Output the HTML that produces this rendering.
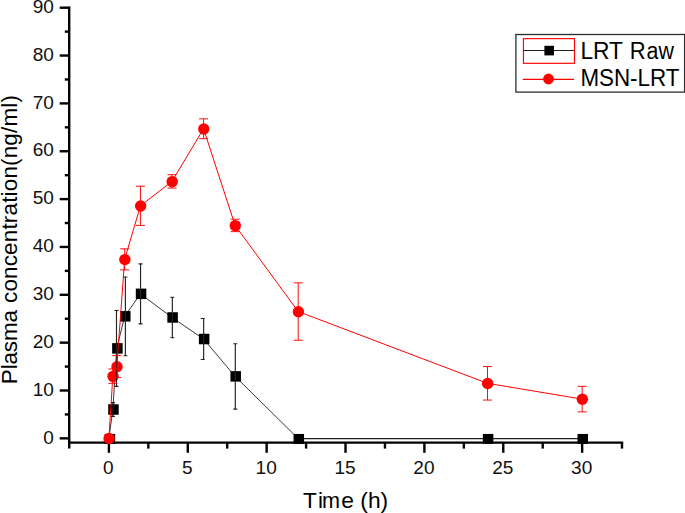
<!DOCTYPE html>
<html lang="en">
<head>
<meta charset="utf-8">
<title>Plasma concentration vs time</title>
<style>
html,body{margin:0;padding:0;background:#fff;}
body{width:685px;height:513px;overflow:hidden;font-family:"Liberation Sans",Arial,sans-serif;}
svg{display:block;}
</style>
</head>
<body>
<svg width="685" height="513" viewBox="0 0 685 513">
<rect width="685" height="513" fill="#fff"/>
<g stroke="#000" stroke-width="2.4" fill="none">
<line x1="69.2" y1="6.5" x2="69.2" y2="448.6"/>
<line x1="68" y1="442.6" x2="623.19" y2="442.6"/>
<line x1="59.7" y1="438.35" x2="69" y2="438.35"/>
<line x1="59.7" y1="390.5" x2="69" y2="390.5"/>
<line x1="59.7" y1="342.65" x2="69" y2="342.65"/>
<line x1="59.7" y1="294.8" x2="69" y2="294.8"/>
<line x1="59.7" y1="246.95" x2="69" y2="246.95"/>
<line x1="59.7" y1="199.1" x2="69" y2="199.1"/>
<line x1="59.7" y1="151.25" x2="69" y2="151.25"/>
<line x1="59.7" y1="103.4" x2="69" y2="103.4"/>
<line x1="59.7" y1="55.55" x2="69" y2="55.55"/>
<line x1="59.7" y1="7.7" x2="69" y2="7.7"/>
<line x1="64.8" y1="414.43" x2="69" y2="414.43"/>
<line x1="64.8" y1="366.58" x2="69" y2="366.58"/>
<line x1="64.8" y1="318.73" x2="69" y2="318.73"/>
<line x1="64.8" y1="270.88" x2="69" y2="270.88"/>
<line x1="64.8" y1="223.03" x2="69" y2="223.03"/>
<line x1="64.8" y1="175.18" x2="69" y2="175.18"/>
<line x1="64.8" y1="127.32" x2="69" y2="127.32"/>
<line x1="64.8" y1="79.48" x2="69" y2="79.48"/>
<line x1="64.8" y1="31.62" x2="69" y2="31.62"/>
<line x1="108.9" y1="442.6" x2="108.9" y2="452.8"/>
<line x1="187.78" y1="442.6" x2="187.78" y2="452.8"/>
<line x1="266.65" y1="442.6" x2="266.65" y2="452.8"/>
<line x1="345.52" y1="442.6" x2="345.52" y2="452.8"/>
<line x1="424.4" y1="442.6" x2="424.4" y2="452.8"/>
<line x1="503.27" y1="442.6" x2="503.27" y2="452.8"/>
<line x1="582.15" y1="442.6" x2="582.15" y2="452.8"/>
<line x1="148.34" y1="442.6" x2="148.34" y2="448.6"/>
<line x1="227.21" y1="442.6" x2="227.21" y2="448.6"/>
<line x1="306.09" y1="442.6" x2="306.09" y2="448.6"/>
<line x1="384.96" y1="442.6" x2="384.96" y2="448.6"/>
<line x1="463.84" y1="442.6" x2="463.84" y2="448.6"/>
<line x1="542.71" y1="442.6" x2="542.71" y2="448.6"/>
<line x1="621.99" y1="442.6" x2="621.99" y2="448.6"/>
</g>
<g font-family="'Liberation Sans', Arial, sans-serif" font-size="18.5" fill="#111">
<text x="43.3" y="444" textLength="10.6" lengthAdjust="spacingAndGlyphs">0</text>
<text x="32.7" y="396" textLength="21.2" lengthAdjust="spacingAndGlyphs">10</text>
<text x="32.7" y="348" textLength="21.2" lengthAdjust="spacingAndGlyphs">20</text>
<text x="32.7" y="300" textLength="21.2" lengthAdjust="spacingAndGlyphs">30</text>
<text x="32.7" y="252" textLength="21.2" lengthAdjust="spacingAndGlyphs">40</text>
<text x="32.7" y="204" textLength="21.2" lengthAdjust="spacingAndGlyphs">50</text>
<text x="32.7" y="156" textLength="21.2" lengthAdjust="spacingAndGlyphs">60</text>
<text x="32.7" y="109" textLength="21.2" lengthAdjust="spacingAndGlyphs">70</text>
<text x="32.7" y="61" textLength="21.2" lengthAdjust="spacingAndGlyphs">80</text>
<text x="32.7" y="13" textLength="21.2" lengthAdjust="spacingAndGlyphs">90</text>
<text x="103.1" y="473.8" textLength="10.6" lengthAdjust="spacingAndGlyphs">0</text>
<text x="181.97" y="473.8" textLength="10.6" lengthAdjust="spacingAndGlyphs">5</text>
<text x="255.55" y="473.8" textLength="21.2" lengthAdjust="spacingAndGlyphs">10</text>
<text x="334.42" y="473.8" textLength="21.2" lengthAdjust="spacingAndGlyphs">15</text>
<text x="413.3" y="473.8" textLength="21.2" lengthAdjust="spacingAndGlyphs">20</text>
<text x="492.17" y="473.8" textLength="21.2" lengthAdjust="spacingAndGlyphs">25</text>
<text x="571.05" y="473.8" textLength="21.2" lengthAdjust="spacingAndGlyphs">30</text>
</g>
<g font-family="'Liberation Sans', Arial, sans-serif" font-size="22.5" fill="#000">
<text y="507.9" font-size="22.5"><tspan x="303" textLength="13.8" lengthAdjust="spacingAndGlyphs">T</tspan><tspan x="318.1" textLength="5" lengthAdjust="spacingAndGlyphs">i</tspan><tspan x="322" textLength="18" lengthAdjust="spacingAndGlyphs">m</tspan><tspan x="341.3" textLength="46.9" lengthAdjust="spacingAndGlyphs">e (h)</tspan></text>
<text transform="translate(17.3 384.2) rotate(-90)"><tspan x="0" textLength="74.2" lengthAdjust="spacing">Plasma</tspan> <tspan x="81.2" textLength="208" lengthAdjust="spacing">concentration(ng/ml)</tspan></text>
</g>
<polyline points="108.9,438.6 112.84,409.5 116.79,348.39 124.68,316.33 140.45,293.84 172,317.48 203.55,339.01 235.1,376.38 298.2,438.6" fill="none" stroke="#222" stroke-width="0.9"/>
<line x1="298.2" y1="438.6" x2="582.15" y2="438.6" stroke="#222" stroke-width="1.15"/>
<rect x="104.65" y="433.95" width="10.5" height="10" fill="#000"/>
<rect x="108.19" y="404.25" width="10.5" height="10.5" fill="#000"/>
<rect x="112.14" y="343.14" width="10.5" height="10.5" fill="#000"/>
<rect x="120.03" y="311.08" width="10.5" height="10.5" fill="#000"/>
<rect x="135.8" y="288.59" width="10.5" height="10.5" fill="#000"/>
<rect x="167.35" y="312.23" width="10.5" height="10.5" fill="#000"/>
<rect x="198.9" y="333.76" width="10.5" height="10.5" fill="#000"/>
<rect x="230.45" y="371.13" width="10.5" height="10.5" fill="#000"/>
<rect x="293.55" y="433.95" width="10.5" height="10" fill="#000"/>
<rect x="482.85" y="433.95" width="10.5" height="10" fill="#000"/>
<rect x="577.5" y="433.95" width="10.5" height="10" fill="#000"/>
<polyline points="108.9,438.35 112.84,376.15 116.79,366.58 124.68,259.39 140.45,205.8 172,181.4 203.55,128.76 235.1,225.42 298.2,311.55 487.5,383.32 582.15,399.11" fill="none" stroke="#f00" stroke-width="1"/>
<circle cx="109.1" cy="438.55" r="5.7" fill="#f00"/>
<circle cx="113.04" cy="376.35" r="5.7" fill="#f00"/>
<circle cx="116.99" cy="366.78" r="5.7" fill="#f00"/>
<circle cx="124.88" cy="259.59" r="5.7" fill="#f00"/>
<circle cx="140.65" cy="206" r="5.7" fill="#f00"/>
<circle cx="172.2" cy="181.6" r="5.7" fill="#f00"/>
<circle cx="203.75" cy="128.96" r="5.7" fill="#f00"/>
<circle cx="235.3" cy="225.62" r="5.7" fill="#f00"/>
<circle cx="298.4" cy="311.75" r="5.7" fill="#f00"/>
<circle cx="487.7" cy="383.52" r="5.7" fill="#f00"/>
<circle cx="582.35" cy="399.31" r="5.7" fill="#f00"/>
<g stroke="#222" stroke-width="1.15" fill="none">
<path d="M112.94 402.51 V416.48 M110.94 402.61 h4 M110.94 416.38 h4"/>
<path d="M116.49 310.35 V386.43 M114.49 310.45 h4 M114.49 386.33 h4"/>
<path d="M125.38 276.86 V355.81 M123.38 276.96 h4 M123.38 355.71 h4"/>
<path d="M140.55 263.7 V323.99 M138.55 263.8 h4 M138.55 323.89 h4"/>
<path d="M172.35 297.14 V337.82 M170.35 297.24 h4 M170.35 337.72 h4"/>
<path d="M203.65 318.44 V359.59 M200.75 318.54 h4 M200.75 359.49 h4"/>
<path d="M235.3 343.61 V409.16 M233.3 343.71 h4 M233.3 409.06 h4"/>
</g>
<g stroke="#f00" stroke-width="0.95" fill="none">
<path d="M112.84 368.97 V383.32 M108.34 368.97 h9 M108.34 383.32 h9"/>
<path d="M117.24 355.57 V377.58 M112.29 355.57 h9 M112.29 377.58 h9"/>
<path d="M124.68 248.86 V269.92 M120.18 248.86 h9 M120.18 269.92 h9"/>
<path d="M140.45 186.18 V225.42 M135.95 186.18 h9 M135.95 225.42 h9"/>
<path d="M172 174.7 V188.09 M167.5 174.7 h9 M167.5 188.09 h9"/>
<path d="M203.55 118.86 V138.67 M199.05 118.86 h9 M199.05 138.67 h9"/>
<path d="M235.1 219.2 V231.64 M230.6 219.2 h9 M230.6 231.64 h9"/>
<path d="M298.2 282.84 V340.26 M293.7 282.84 h9 M293.7 340.26 h9"/>
<path d="M487.5 366.58 V400.07 M483 366.58 h9 M483 400.07 h9"/>
<path d="M582.15 386.34 V411.89 M577.65 386.34 h9 M577.65 411.89 h9"/>
</g>
<rect x="515.9" y="34.5" width="168.7" height="57.6" fill="#fff" stroke="#2e2e2e" stroke-width="1.3"/>
<rect x="523.45" y="38.65" width="51.05" height="24.65" fill="none" stroke="#f00" stroke-width="1.15"/>
<line x1="523.4" y1="50.5" x2="574" y2="50.5" stroke="#222" stroke-width="1.15"/>
<rect x="544.4" y="45.8" width="9.6" height="9.6" fill="#000"/>
<line x1="522.8" y1="79.45" x2="574" y2="79.45" stroke="#f00" stroke-width="1.2"/>
<circle cx="548.5" cy="79" r="5.4" fill="#f00"/>
<g font-family="'Liberation Sans', Arial, sans-serif" font-size="23" fill="#000">
<text y="59.1"><tspan x="580.4" textLength="42.2" lengthAdjust="spacingAndGlyphs">LRT</tspan> <tspan x="629.7" textLength="15.9" lengthAdjust="spacingAndGlyphs">R</tspan><tspan x="646.6" textLength="27.3" lengthAdjust="spacingAndGlyphs">aw</tspan></text>
<text x="580.4" y="86.1" textLength="99" lengthAdjust="spacingAndGlyphs">MSN-LRT</text>
</g>
</svg>
</body>
</html>
